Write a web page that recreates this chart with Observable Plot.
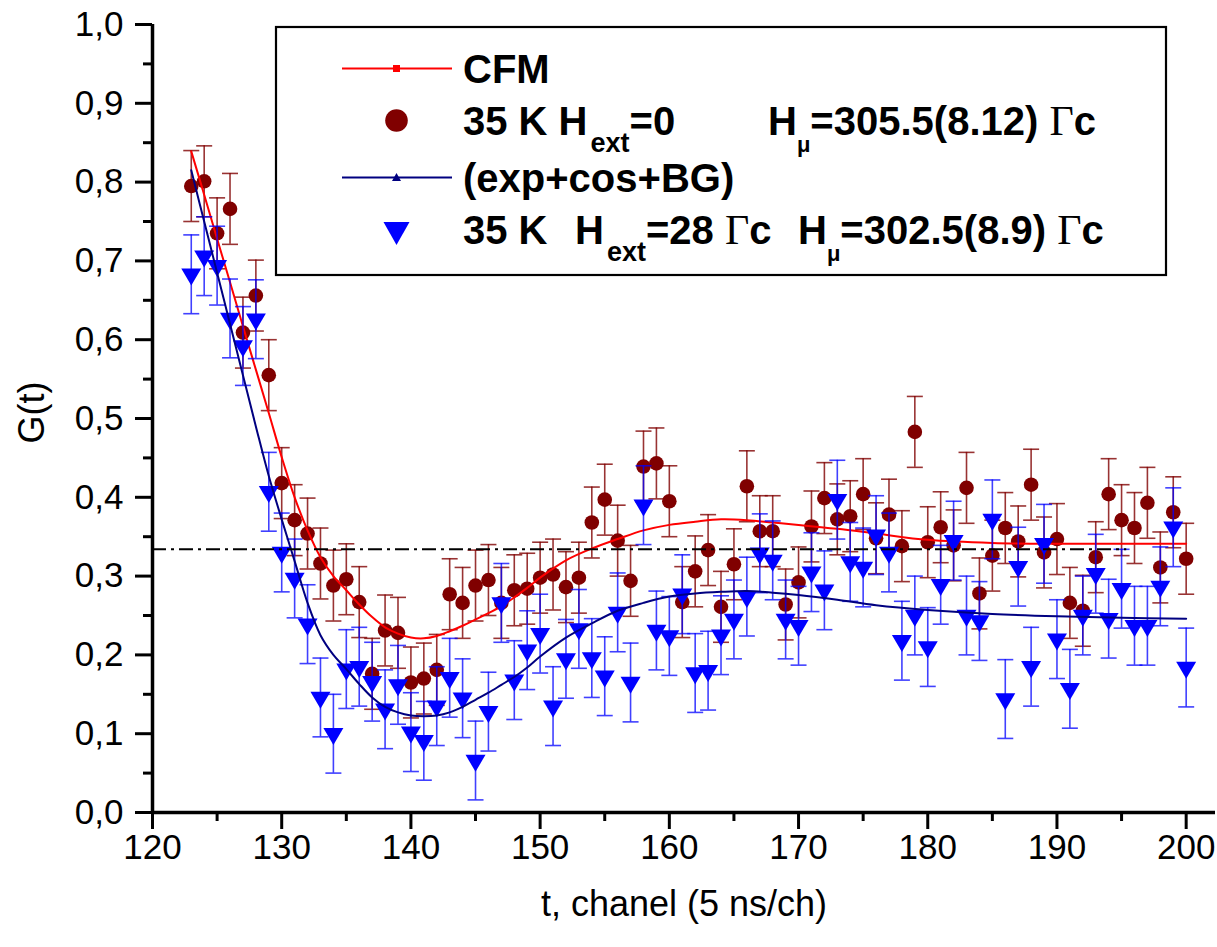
<!DOCTYPE html>
<html>
<head>
<meta charset="utf-8">
<script src="https://cdn.jsdelivr.net/npm/d3@7"></script>
<script src="https://cdn.jsdelivr.net/npm/@observablehq/plot@0.6"></script>
<style>
  html, body { margin: 0; padding: 0; background: #fff; }
  #chart { width: 1217px; height: 947px; }
  svg { font-family: "Liberation Sans", Arial, sans-serif; }
</style>
</head>
<body>
<div id="chart"></div>
<script>
// ---------- data ----------
const channels = [123,124,125,126,127,128,129,130,131,132,133,134,135,136,137,138,139,140,141,142,
  143,144,145,146,147,148,149,150,151,152,153,154,155,156,157,158,159,160,161,162,
  163,164,165,166,167,168,169,170,171,172,173,174,175,176,177,178,179,180,181,182,
  183,184,185,186,187,188,189,190,191,192,193,194,195,196,197,198,199,200];

// 35 K, H_ext = 0 (dark red circles)
const gHext0 = [0.795,0.801,0.735,0.766,0.609,0.656,0.555,0.418,0.371,0.354,0.316,0.288,0.296,0.267,0.176,0.231,0.228,0.165,0.170,0.181,
  0.277,0.266,0.288,0.295,0.266,0.282,0.284,0.298,0.302,0.286,0.298,0.368,0.397,0.345,0.294,0.439,0.443,0.395,0.267,0.306,
  0.333,0.261,0.315,0.414,0.357,0.357,0.264,0.292,0.363,0.399,0.372,0.376,0.404,0.348,0.378,0.338,0.483,0.343,0.362,0.339,
  0.412,0.278,0.326,0.361,0.344,0.416,0.330,0.347,0.266,0.256,0.324,0.404,0.371,0.361,0.393,0.311,0.381,0.322];

// 35 K, H_ext = 28 Gs (blue down-triangles)
const gHext28 = [0.683,0.706,0.694,0.627,0.592,0.626,0.407,0.330,0.297,0.239,0.146,0.100,0.182,0.185,0.166,0.131,0.162,0.102,0.091,0.135,
  0.171,0.145,0.066,0.128,0.266,0.168,0.206,0.227,0.135,0.195,0.233,0.196,0.173,0.254,0.165,0.390,0.231,0.224,0.277,0.177,
  0.180,0.225,0.245,0.274,0.329,0.320,0.245,0.237,0.305,0.282,0.397,0.318,0.311,0.352,0.330,0.218,0.250,0.210,0.289,0.345,
  0.250,0.243,0.372,0.144,0.312,0.185,0.341,0.220,0.157,0.250,0.303,0.246,0.284,0.237,0.237,0.287,0.362,0.184];

const errHext0 = 0.045;
const errHext28 = 0.05;

// fitted curves
const fitT      = [123,124,125,126,127,128,129,130,131,132,133,134,135,136,137,138,139,140,141,142,143,144,145,146,147,148,149,150,152,154,156,158,160,162,164,166,168,170,173,176,180,185,190,195,200];
const fitCFM    = [0.839,0.784,0.728,0.673,0.617,0.562,0.507,0.451,0.400,0.358,0.324,0.300,0.282,0.264,0.248,0.235,0.227,0.222,0.221,0.224,0.230,0.237,0.245,0.253,0.262,0.273,0.285,0.298,0.320,0.335,0.347,0.358,0.365,0.369,0.372,0.371,0.368,0.365,0.360,0.354,0.346,0.342,0.341,0.341,0.341];
const fitExpCos = [0.815,0.750,0.685,0.620,0.555,0.490,0.427,0.372,0.319,0.266,0.225,0.200,0.182,0.163,0.146,0.134,0.127,0.123,0.122,0.123,0.127,0.134,0.143,0.152,0.162,0.172,0.184,0.198,0.222,0.240,0.256,0.266,0.274,0.278,0.280,0.281,0.279,0.276,0.270,0.263,0.257,0.252,0.249,0.247,0.246];

// 1/3 background level
const bgLevel = 0.334;
const bgStart = 120;
const bgEnd = 195.4;

// axes
const xTicks = [120,130,140,150,160,170,180,190,200];
const xMinor = [125,135,145,155,165,175,185,195];
const yTicks = [0,0.1,0.2,0.3,0.4,0.5,0.6,0.7,0.8,0.9,1.0];
const yMinor = [0.05,0.15,0.25,0.35,0.45,0.55,0.65,0.75,0.85,0.95];
const xTitle = "t, chanel (5 ns/ch)";
const yTitle = "G(t)";

// legend texts
const legCFM = "CFM";
const legExp = "(exp+cos+BG)";
const legH0 = {a: "35 K H", sub: "ext", b: "=0", c: "H", csub: "\u03bc", d: "=305.5(8.12) "};
const legH28 = {a: "35 K", h: "H", sub: "ext", b: "=28 ", c: "H", csub: "\u03bc", d: "=302.5(8.9) "};
const unitG = "\u0393";
const unitC = "c";

// ---------- build ----------
const ptsA = channels.map((t, i) => ({t, g: gHext0[i]}));
const ptsB = channels.map((t, i) => ({t, g: gHext28[i]}));
const fitA = fitT.map((t, i) => ({t, g: fitCFM[i]}));
const fitB = fitT.map((t, i) => ({t, g: fitExpCos[i]}));

const DARKRED = "#800000";
const BLUE = "#0000ff";
const RED = "#ff0000";
const NAVY = "#000080";

const capSym = {draw(ctx) { ctx.moveTo(-8, 0); ctx.lineTo(8, 0); }};
const triDown = {draw(ctx) { ctx.moveTo(-10, -5.7); ctx.lineTo(10, -5.7); ctx.lineTo(0, 11.3); ctx.closePath(); }};

const fmt = d => d.toFixed(1).replace(".", ",");

const plot = Plot.plot({
  width: 1217,
  height: 947,
  marginLeft: 152,
  marginRight: 2,
  marginTop: 24,
  marginBottom: 135,
  x: {domain: [120, 202.27]},
  y: {domain: [0, 1]},
  style: {background: "#fff", fontFamily: "'Liberation Sans', Arial, sans-serif", color: "#000"},
  marks: [
    // red series
    Plot.ruleX(ptsA, {x: "t", y1: d => d.g - errHext0, y2: d => d.g + errHext0, stroke: DARKRED, strokeWidth: 1.6, strokeOpacity: 0.8}),
    Plot.dot(ptsA, {x: "t", y: d => d.g + errHext0, symbol: capSym, stroke: DARKRED, fill: "none", strokeWidth: 1.6, strokeOpacity: 0.8}),
    Plot.dot(ptsA, {x: "t", y: d => d.g - errHext0, symbol: capSym, stroke: DARKRED, fill: "none", strokeWidth: 1.6, strokeOpacity: 0.8}),
    Plot.dot(ptsA, {x: "t", y: "g", r: 7.3, fill: DARKRED, stroke: "none"}),
    Plot.line(fitA, {x: "t", y: "g", stroke: RED, strokeWidth: 2, curve: "catmull-rom"}),
    // blue series
    Plot.ruleX(ptsB, {x: "t", y1: d => d.g - errHext28, y2: d => d.g + errHext28, stroke: BLUE, strokeWidth: 1.6, strokeOpacity: 0.75}),
    Plot.dot(ptsB, {x: "t", y: d => d.g + errHext28, symbol: capSym, stroke: BLUE, fill: "none", strokeWidth: 1.6, strokeOpacity: 0.75}),
    Plot.dot(ptsB, {x: "t", y: d => d.g - errHext28, symbol: capSym, stroke: BLUE, fill: "none", strokeWidth: 1.6, strokeOpacity: 0.75}),
    Plot.dot(ptsB, {x: "t", y: "g", symbol: triDown, fill: BLUE, stroke: "none"}),
    Plot.line(fitB, {x: "t", y: "g", stroke: NAVY, strokeWidth: 2, curve: "catmull-rom"}),
    // background 1/3 level
    Plot.ruleY([{y: bgLevel, x1: bgStart, x2: bgEnd}], {y: "y", x1: "x1", x2: "x2", stroke: "#000", strokeWidth: 2, strokeDasharray: "14,5,3,5"}),
    // axes
    Plot.axisY({ticks: yTicks, tickSize: 17, tickPadding: 12, tickFormat: fmt, fontSize: 35, strokeWidth: 3, label: null}),
    Plot.axisY({ticks: yMinor, tickSize: 9, tickFormat: () => "", strokeWidth: 3, label: null}),
    Plot.axisX({ticks: xTicks, tickSize: 17, tickPadding: 5, tickFormat: d => String(d), fontSize: 35, strokeWidth: 3, label: null}),
    Plot.axisX({ticks: xMinor, tickSize: 9, tickFormat: () => "", strokeWidth: 3, label: null}),
    Plot.ruleX([120], {y1: 0, y2: 1, stroke: "#000", strokeWidth: 3.5}),
    Plot.ruleY([0], {stroke: "#000", strokeWidth: 3.5}),
    Plot.text([yTitle], {frameAnchor: "left", dx: -120, dy: 25, rotate: -90, fontSize: 36, text: d => d, fill: "#000"}),
    Plot.text([xTitle], {frameAnchor: "bottom", dy: 103, fontSize: 36, text: d => d, fill: "#000"})
  ]
});

document.getElementById("chart").appendChild(plot);

// ---------- legend (inside the SVG) ----------
const svg = d3.select(plot);
const lg = svg.append("g")
  .attr("font-family", "'Liberation Sans', Arial, sans-serif")
  .attr("font-weight", "bold")
  .attr("text-anchor", "start")
  .attr("fill", "#000");
lg.append("rect").attr("x", 276).attr("y", 27).attr("width", 890).attr("height", 248)
  .attr("fill", "#fff").attr("stroke", "#000").attr("stroke-width", 2.2);

// row 1: CFM line
lg.append("line").attr("x1", 342).attr("x2", 452).attr("y1", 68.5).attr("y2", 68.5).attr("stroke", RED).attr("stroke-width", 2);
lg.append("rect").attr("x", 393).attr("y", 65).attr("width", 7).attr("height", 7).attr("fill", RED);
lg.append("text").attr("x", 463).attr("y", 83).attr("font-size", 40).text(legCFM);

// row 2: circle
lg.append("circle").attr("cx", 396.5).attr("cy", 120.5).attr("r", 11.3).attr("fill", DARKRED);
{
  const t = lg.append("text").attr("x", 463).attr("y", 135).attr("font-size", 40);
  t.append("tspan").text(legH0.a);
  t.append("tspan").attr("dx", 3).attr("dy", 17).attr("font-size", 27).text(legH0.sub);
  t.append("tspan").attr("dy", -17).text(legH0.b);
  t.append("tspan").attr("x", 768).text(legH0.c);
  t.append("tspan").attr("dy", 17).attr("font-size", 22).text(legH0.csub);
  t.append("tspan").attr("dy", -17).text(legH0.d);
  t.append("tspan").attr("font-family", "'Liberation Serif', 'Times New Roman', serif").attr("font-weight", "normal").attr("font-size", 42).text(unitG);
  t.append("tspan").text(unitC);
}

// row 3: exp+cos+BG line
lg.append("line").attr("x1", 342).attr("x2", 452).attr("y1", 177.5).attr("y2", 177.5).attr("stroke", NAVY).attr("stroke-width", 2);
lg.append("path").attr("d", "M392,181 L401,181 L396.5,173 Z").attr("fill", NAVY);
lg.append("text").attr("x", 463).attr("y", 192).attr("font-size", 40).text(legExp);

// row 4: triangle
lg.append("path").attr("d", "M383.5,222 L409.5,222 L396.5,245 Z").attr("fill", BLUE);
{
  const t = lg.append("text").attr("x", 463).attr("y", 244).attr("font-size", 40);
  t.append("tspan").text(legH28.a);
  t.append("tspan").attr("x", 575).text(legH28.h);
  t.append("tspan").attr("dx", 3).attr("dy", 17).attr("font-size", 27).text(legH28.sub);
  t.append("tspan").attr("dy", -17).text(legH28.b);
  t.append("tspan").attr("font-family", "'Liberation Serif', 'Times New Roman', serif").attr("font-weight", "normal").attr("font-size", 42).text(unitG);
  t.append("tspan").text(unitC);
  t.append("tspan").attr("x", 798).text(legH28.c);
  t.append("tspan").attr("dy", 17).attr("font-size", 22).text(legH28.csub);
  t.append("tspan").attr("dy", -17).text(legH28.d);
  t.append("tspan").attr("font-family", "'Liberation Serif', 'Times New Roman', serif").attr("font-weight", "normal").attr("font-size", 42).text(unitG);
  t.append("tspan").text(unitC);
}
</script>
</body>
</html>
